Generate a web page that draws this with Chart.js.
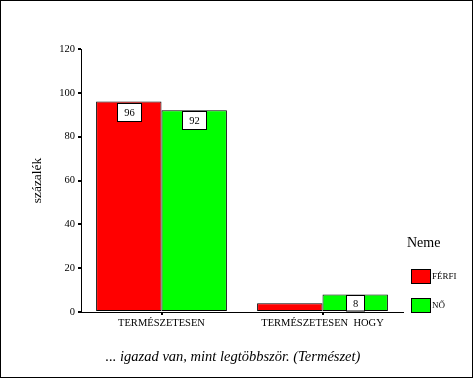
<!DOCTYPE html>
<html>
<head>
<meta charset="utf-8">
<script src="https://cdn.jsdelivr.net/npm/chart.js@4"></script>
<style>
  body { margin: 0; background: #fff; }
  #wrap { width: 473px; height: 378px; }
</style>
</head>
<body>
<div id="wrap"><canvas id="chart"></canvas></div>
<script>
const categories = ['TERMÉSZETESEN', 'TERMÉSZETESEN  HOGY'];
const seriesNames = ['FÉRFI', 'NŐ'];
const ferfiValues = [96, 4];
const noValues = [92, 8];
const seriesColors = ['#ff0000', '#00ff00'];
const yMax = 120;
const yStep = 20;
const yTitle = 'százalék';
const legendTitle = 'Neme';
const caption = '... igazad van, mint legtöbbször. (Természet)';

const SERIF = "'Liberation Serif', 'Times New Roman', serif";

// white boxes with the value, plus the legend, caption and frame
const extras = {
    id: 'extras',
    afterDatasetsDraw(chart) {
        const ctx = chart.ctx;
        ctx.save();
        ctx.font = `10.5px ${SERIF}`;
        ctx.textAlign = 'center';
        ctx.textBaseline = 'middle';
        chart.data.datasets.forEach((ds, di) => {
            chart.getDatasetMeta(di).data.forEach((bar, i) => {
                const h = bar.base - bar.y;
                if (h < 12) return;
                const txt = String(ds.data[i]);
                const w = Math.round(ctx.measureText(txt).width + 13);
                const bh = Math.min(18, h - 1);
                const x = Math.round(bar.x - w / 2) + 0.5;
                const y = Math.round(bar.y + 1) + 0.5;
                ctx.fillStyle = '#fff';
                ctx.fillRect(x, y, w, bh);
                ctx.strokeStyle = '#000';
                ctx.lineWidth = 1;
                ctx.strokeRect(x, y, w, bh);
                ctx.fillStyle = '#000';
                ctx.fillText(txt, x + w / 2, y + bh / 2 + 1);
            });
        });
        ctx.restore();
    },
    afterDraw(chart) {
        const ctx = chart.ctx;
        const area = chart.chartArea;
        ctx.save();
        ctx.fillStyle = '#000';

        // y axis title
        ctx.font = `13.5px ${SERIF}`;
        ctx.textAlign = 'center';
        ctx.textBaseline = 'middle';
        ctx.translate(37, (area.top + area.bottom) / 2);
        ctx.rotate(-Math.PI / 2);
        ctx.fillText(yTitle, 0, 0);
        ctx.setTransform(1, 0, 0, 1, 0, 0);

        // legend
        ctx.textAlign = 'left';
        ctx.font = `14px ${SERIF}`;
        ctx.fillText(legendTitle, 407, 243);
        ctx.font = `9px ${SERIF}`;
        seriesNames.forEach((name, i) => {
            const y = 269 + i * 29;
            ctx.fillStyle = seriesColors[i];
            ctx.fillRect(411.5, y + 0.5, 19, 14);
            ctx.strokeStyle = '#000';
            ctx.lineWidth = 1;
            ctx.strokeRect(411.5, y + 0.5, 19, 14);
            ctx.fillStyle = '#000';
            ctx.fillText(name, 432, y + 8);
        });

        // caption
        ctx.font = `italic 14.5px ${SERIF}`;
        ctx.textAlign = 'center';
        ctx.fillText(caption, 233, 357);

        // frame
        ctx.strokeStyle = '#000';
        ctx.strokeRect(0.5, 0.5, chart.width - 1, chart.height - 1);
        ctx.restore();
    }
};

new Chart(document.getElementById('chart'), {
    type: 'bar',
    data: {
        labels: categories,
        datasets: [
            { label: seriesNames[0], data: ferfiValues, backgroundColor: seriesColors[0] },
            { label: seriesNames[1], data: noValues, backgroundColor: seriesColors[1] }
        ]
    },
    options: {
        responsive: true,
        maintainAspectRatio: false,
        animation: false,
        layout: { padding: { left: 0, right: 70, top: 49, bottom: 46 } },
        datasets: {
            bar: {
                categoryPercentage: 0.8125,
                barPercentage: 1,
                borderColor: '#000',
                borderWidth: 1,
                borderSkipped: false
            }
        },
        plugins: {
            legend: { display: false },
            tooltip: { enabled: false }
        },
        scales: {
            x: {
                afterFit: (s) => { s.height = 20; },
                grid: { offset: false, drawOnChartArea: false, tickLength: 3, lineWidth: 2, color: '#000' },
                border: { color: '#000', width: 1 },
                ticks: {
                    color: '#000',
                    padding: 2,
                    maxRotation: 0,
                    font: { family: SERIF, size: 10.5 }
                }
            },
            y: {
                min: 0,
                max: yMax,
                afterFit: (s) => { s.width = 81; },
                grid: { drawOnChartArea: false, tickLength: 3, lineWidth: 2, color: '#000' },
                border: { color: '#000', width: 1 },
                ticks: {
                    stepSize: yStep,
                    color: '#000',
                    padding: 3,
                    font: { family: SERIF, size: 10.5 }
                }
            }
        }
    },
    plugins: [extras]
});
</script>
</body>
</html>
